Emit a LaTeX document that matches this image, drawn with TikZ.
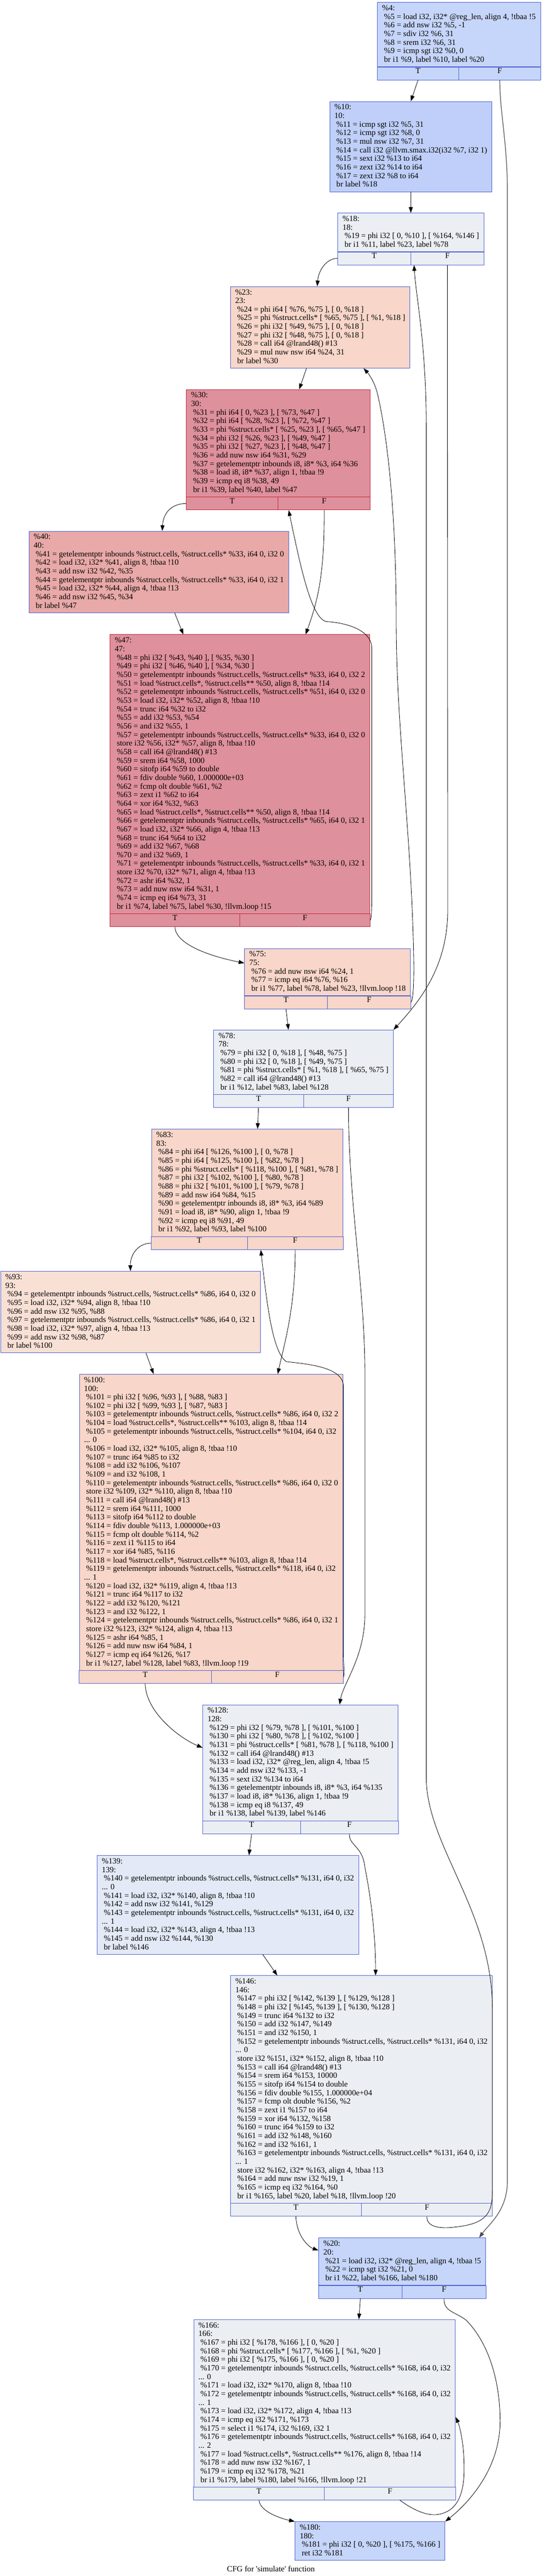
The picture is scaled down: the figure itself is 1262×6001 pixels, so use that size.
\documentclass[tikz,border=0pt]{standalone}
\usepackage{fontspec}
\setmainfont{Liberation Serif}
\usetikzlibrary{arrows.meta,calc,fit}

\definecolor{bordblue}{HTML}{4D61D0}
\definecolor{bordred}{HTML}{C0283C}

\newcommand\irtext[1]{\begin{tabular}{@{}l@{}}#1\end{tabular}}
\newcommand\tfrow[2]{%
  \node[cell,#2,fit={(#1.south west) ($(#1.south)+(0,30)$)}] (#1T) {T};
  \node[cell,#2,fit={(#1.south) ($(#1.south east)+(0,30)$)}] (#1F) {F};}

\tikzset{
  txt/.style={font=\fontsize{14}{15}\selectfont},
  blk/.style={txt, draw, line width=0.75pt, anchor=north, inner xsep=8.25pt, inner ysep=3.75pt},
  cell/.style={txt, draw, line width=0.75pt, inner sep=0pt},
  cblue/.style={fill={rgb,255:red,198;green,213;blue,250}, draw=bordblue},
  cblue2/.style={fill={rgb,255:red,191;green,207;blue,249}, draw=bordblue},
  cgrey/.style={fill={rgb,255:red,235;green,238;blue,243}, draw=bordblue},
  cgrey2/.style={fill={rgb,255:red,227;green,233;blue,246}, draw=bordblue},
  cpeach/.style={fill={rgb,255:red,248;green,214;blue,201}, draw=bordblue},
  cpeach2/.style={fill={rgb,255:red,249;green,224;blue,213}, draw=bordblue},
  cred/.style={fill={rgb,255:red,222;green,144;blue,156}, draw=bordred},
  crose/.style={fill={rgb,255:red,232;green,169;blue,168}, draw=bordblue},
  flow/.style={line width=0.75pt, -{Triangle[length=10pt,width=7pt]}},
  trunk/.style={flow, line width=1.1pt, draw=black!70},
}

\begin{document}
\begin{tikzpicture}[x=0.75pt, y=-0.75pt]

  \useasboundingbox (0,0) rectangle (1262,6001);

  % entry and outer loop
  \node[blk,cblue] (bb4) at (1069,5) {\irtext{\%4:\\
\ \%5 = load i32, i32* @reg\_len, align 4, !tbaa !5\\
\ \%6 = add nsw i32 \%5, -1\\
\ \%7 = sdiv i32 \%6, 31\\
\ \%8 = srem i32 \%6, 31\\
\ \%9 = icmp sgt i32 \%0, 0\\
\ br i1 \%9, label \%10, label \%20}};
  \tfrow{bb4}{cblue}

  \node[blk,cblue2] (bb10) at (957,236) {\irtext{\%10:\\
10:\\
\ \%11 = icmp sgt i32 \%5, 31\\
\ \%12 = icmp sgt i32 \%8, 0\\
\ \%13 = mul nsw i32 \%7, 31\\
\ \%14 = call i32 @llvm.smax.i32(i32 \%7, i32 1)\\
\ \%15 = sext i32 \%13 to i64\\
\ \%16 = zext i32 \%14 to i64\\
\ \%17 = zext i32 \%8 to i64\\
\ br label \%18}};

  \node[blk,cgrey] (bb18) at (957,496) {\irtext{\%18:\\
18:\\
\ \%19 = phi i32 [ 0, \%10 ], [ \%164, \%146 ]\\
\ br i1 \%11, label \%23, label \%78}};
  \tfrow{bb18}{cgrey}

  % first inner loop
  \node[blk,cpeach] (bb23) at (746,667) {\irtext{\%23:\\
23:\\
\ \%24 = phi i64 [ \%76, \%75 ], [ 0, \%18 ]\\
\ \%25 = phi \%struct.cells* [ \%65, \%75 ], [ \%1, \%18 ]\\
\ \%26 = phi i32 [ \%49, \%75 ], [ 0, \%18 ]\\
\ \%27 = phi i32 [ \%48, \%75 ], [ 0, \%18 ]\\
\ \%28 = call i64 @lrand48() \#13\\
\ \%29 = mul nuw nsw i64 \%24, 31\\
\ br label \%30}};

  \node[blk,cred] (bb30) at (648,907) {\irtext{\%30:\\
30:\\
\ \%31 = phi i64 [ 0, \%23 ], [ \%73, \%47 ]\\
\ \%32 = phi i64 [ \%28, \%23 ], [ \%72, \%47 ]\\
\ \%33 = phi \%struct.cells* [ \%25, \%23 ], [ \%65, \%47 ]\\
\ \%34 = phi i32 [ \%26, \%23 ], [ \%49, \%47 ]\\
\ \%35 = phi i32 [ \%27, \%23 ], [ \%48, \%47 ]\\
\ \%36 = add nuw nsw i64 \%31, \%29\\
\ \%37 = getelementptr inbounds i8, i8* \%3, i64 \%36\\
\ \%38 = load i8, i8* \%37, align 1, !tbaa !9\\
\ \%39 = icmp eq i8 \%38, 49\\
\ br i1 \%39, label \%40, label \%47}};
  \tfrow{bb30}{cred}

  \node[blk,crose] (bb40) at (370,1237) {\irtext{\%40:\\
40:\\
\ \%41 = getelementptr inbounds \%struct.cells, \%struct.cells* \%33, i64 0, i32 0\\
\ \%42 = load i32, i32* \%41, align 8, !tbaa !10\\
\ \%43 = add nsw i32 \%42, \%35\\
\ \%44 = getelementptr inbounds \%struct.cells, \%struct.cells* \%33, i64 0, i32 1\\
\ \%45 = load i32, i32* \%44, align 4, !tbaa !13\\
\ \%46 = add nsw i32 \%45, \%34\\
\ br label \%47}};

  \node[blk,cred] (bb47) at (559,1478) {\irtext{\%47:\\
47:\\
\ \%48 = phi i32 [ \%43, \%40 ], [ \%35, \%30 ]\\
\ \%49 = phi i32 [ \%46, \%40 ], [ \%34, \%30 ]\\
\ \%50 = getelementptr inbounds \%struct.cells, \%struct.cells* \%33, i64 0, i32 2\\
\ \%51 = load \%struct.cells*, \%struct.cells** \%50, align 8, !tbaa !14\\
\ \%52 = getelementptr inbounds \%struct.cells, \%struct.cells* \%51, i64 0, i32 0\\
\ \%53 = load i32, i32* \%52, align 8, !tbaa !10\\
\ \%54 = trunc i64 \%32 to i32\\
\ \%55 = add i32 \%53, \%54\\
\ \%56 = and i32 \%55, 1\\
\ \%57 = getelementptr inbounds \%struct.cells, \%struct.cells* \%33, i64 0, i32 0\\
\ store i32 \%56, i32* \%57, align 8, !tbaa !10\\
\ \%58 = call i64 @lrand48() \#13\\
\ \%59 = srem i64 \%58, 1000\\
\ \%60 = sitofp i64 \%59 to double\\
\ \%61 = fdiv double \%60, 1.000000e+03\\
\ \%62 = fcmp olt double \%61, \%2\\
\ \%63 = zext i1 \%62 to i64\\
\ \%64 = xor i64 \%32, \%63\\
\ \%65 = load \%struct.cells*, \%struct.cells** \%50, align 8, !tbaa !14\\
\ \%66 = getelementptr inbounds \%struct.cells, \%struct.cells* \%65, i64 0, i32 1\\
\ \%67 = load i32, i32* \%66, align 4, !tbaa !13\\
\ \%68 = trunc i64 \%64 to i32\\
\ \%69 = add i32 \%67, \%68\\
\ \%70 = and i32 \%69, 1\\
\ \%71 = getelementptr inbounds \%struct.cells, \%struct.cells* \%33, i64 0, i32 1\\
\ store i32 \%70, i32* \%71, align 4, !tbaa !13\\
\ \%72 = ashr i64 \%32, 1\\
\ \%73 = add nuw nsw i64 \%31, 1\\
\ \%74 = icmp eq i64 \%73, 31\\
\ br i1 \%74, label \%75, label \%30, !llvm.loop !15}};
  \tfrow{bb47}{cred}

  \node[blk,cpeach] (bb75) at (763,2209) {\irtext{\%75:\\
75:\\
\ \%76 = add nuw nsw i64 \%24, 1\\
\ \%77 = icmp eq i64 \%76, \%16\\
\ br i1 \%77, label \%78, label \%23, !llvm.loop !18}};
  \tfrow{bb75}{cpeach}

  \node[blk,cgrey] (bb78) at (707,2399) {\irtext{\%78:\\
78:\\
\ \%79 = phi i32 [ 0, \%18 ], [ \%48, \%75 ]\\
\ \%80 = phi i32 [ 0, \%18 ], [ \%49, \%75 ]\\
\ \%81 = phi \%struct.cells* [ \%1, \%18 ], [ \%65, \%75 ]\\
\ \%82 = call i64 @lrand48() \#13\\
\ br i1 \%12, label \%83, label \%128}};
  \tfrow{bb78}{cgrey}

  % second inner loop
  \node[blk,cpeach] (bb83) at (576,2630) {\irtext{\%83:\\
83:\\
\ \%84 = phi i64 [ \%126, \%100 ], [ 0, \%78 ]\\
\ \%85 = phi i64 [ \%125, \%100 ], [ \%82, \%78 ]\\
\ \%86 = phi \%struct.cells* [ \%118, \%100 ], [ \%81, \%78 ]\\
\ \%87 = phi i32 [ \%102, \%100 ], [ \%80, \%78 ]\\
\ \%88 = phi i32 [ \%101, \%100 ], [ \%79, \%78 ]\\
\ \%89 = add nsw i64 \%84, \%15\\
\ \%90 = getelementptr inbounds i8, i8* \%3, i64 \%89\\
\ \%91 = load i8, i8* \%90, align 1, !tbaa !9\\
\ \%92 = icmp eq i8 \%91, 49\\
\ br i1 \%92, label \%93, label \%100}};
  \tfrow{bb83}{cpeach}

  \node[blk,cpeach2] (bb93) at (304,2961) {\irtext{\%93:\\
93:\\
\ \%94 = getelementptr inbounds \%struct.cells, \%struct.cells* \%86, i64 0, i32 0\\
\ \%95 = load i32, i32* \%94, align 8, !tbaa !10\\
\ \%96 = add nsw i32 \%95, \%88\\
\ \%97 = getelementptr inbounds \%struct.cells, \%struct.cells* \%86, i64 0, i32 1\\
\ \%98 = load i32, i32* \%97, align 4, !tbaa !13\\
\ \%99 = add nsw i32 \%98, \%87\\
\ br label \%100}};

  \node[blk,cpeach] (bb100) at (492,3201) {\irtext{\%100:\\
100:\\
\ \%101 = phi i32 [ \%96, \%93 ], [ \%88, \%83 ]\\
\ \%102 = phi i32 [ \%99, \%93 ], [ \%87, \%83 ]\\
\ \%103 = getelementptr inbounds \%struct.cells, \%struct.cells* \%86, i64 0, i32 2\\
\ \%104 = load \%struct.cells*, \%struct.cells** \%103, align 8, !tbaa !14\\
\ \%105 = getelementptr inbounds \%struct.cells, \%struct.cells* \%104, i64 0, i32\\
... 0\\
\ \%106 = load i32, i32* \%105, align 8, !tbaa !10\\
\ \%107 = trunc i64 \%85 to i32\\
\ \%108 = add i32 \%106, \%107\\
\ \%109 = and i32 \%108, 1\\
\ \%110 = getelementptr inbounds \%struct.cells, \%struct.cells* \%86, i64 0, i32 0\\
\ store i32 \%109, i32* \%110, align 8, !tbaa !10\\
\ \%111 = call i64 @lrand48() \#13\\
\ \%112 = srem i64 \%111, 1000\\
\ \%113 = sitofp i64 \%112 to double\\
\ \%114 = fdiv double \%113, 1.000000e+03\\
\ \%115 = fcmp olt double \%114, \%2\\
\ \%116 = zext i1 \%115 to i64\\
\ \%117 = xor i64 \%85, \%116\\
\ \%118 = load \%struct.cells*, \%struct.cells** \%103, align 8, !tbaa !14\\
\ \%119 = getelementptr inbounds \%struct.cells, \%struct.cells* \%118, i64 0, i32\\
... 1\\
\ \%120 = load i32, i32* \%119, align 4, !tbaa !13\\
\ \%121 = trunc i64 \%117 to i32\\
\ \%122 = add i32 \%120, \%121\\
\ \%123 = and i32 \%122, 1\\
\ \%124 = getelementptr inbounds \%struct.cells, \%struct.cells* \%86, i64 0, i32 1\\
\ store i32 \%123, i32* \%124, align 4, !tbaa !13\\
\ \%125 = ashr i64 \%85, 1\\
\ \%126 = add nuw nsw i64 \%84, 1\\
\ \%127 = icmp eq i64 \%126, \%17\\
\ br i1 \%127, label \%128, label \%83, !llvm.loop !19}};
  \tfrow{bb100}{cpeach}

  % last cell
  \node[blk,cgrey] (bb128) at (700,3971) {\irtext{\%128:\\
128:\\
\ \%129 = phi i32 [ \%79, \%78 ], [ \%101, \%100 ]\\
\ \%130 = phi i32 [ \%80, \%78 ], [ \%102, \%100 ]\\
\ \%131 = phi \%struct.cells* [ \%81, \%78 ], [ \%118, \%100 ]\\
\ \%132 = call i64 @lrand48() \#13\\
\ \%133 = load i32, i32* @reg\_len, align 4, !tbaa !5\\
\ \%134 = add nsw i32 \%133, -1\\
\ \%135 = sext i32 \%134 to i64\\
\ \%136 = getelementptr inbounds i8, i8* \%3, i64 \%135\\
\ \%137 = load i8, i8* \%136, align 1, !tbaa !9\\
\ \%138 = icmp eq i8 \%137, 49\\
\ br i1 \%138, label \%139, label \%146}};
  \tfrow{bb128}{cgrey}

  \node[blk,cgrey2] (bb139) at (531,4322) {\irtext{\%139:\\
139:\\
\ \%140 = getelementptr inbounds \%struct.cells, \%struct.cells* \%131, i64 0, i32\\
... 0\\
\ \%141 = load i32, i32* \%140, align 8, !tbaa !10\\
\ \%142 = add nsw i32 \%141, \%129\\
\ \%143 = getelementptr inbounds \%struct.cells, \%struct.cells* \%131, i64 0, i32\\
... 1\\
\ \%144 = load i32, i32* \%143, align 4, !tbaa !13\\
\ \%145 = add nsw i32 \%144, \%130\\
\ br label \%146}};

  \node[blk,cgrey] (bb146) at (842,4602) {\irtext{\%146:\\
146:\\
\ \%147 = phi i32 [ \%142, \%139 ], [ \%129, \%128 ]\\
\ \%148 = phi i32 [ \%145, \%139 ], [ \%130, \%128 ]\\
\ \%149 = trunc i64 \%132 to i32\\
\ \%150 = add i32 \%147, \%149\\
\ \%151 = and i32 \%150, 1\\
\ \%152 = getelementptr inbounds \%struct.cells, \%struct.cells* \%131, i64 0, i32\\
... 0\\
\ store i32 \%151, i32* \%152, align 8, !tbaa !10\\
\ \%153 = call i64 @lrand48() \#13\\
\ \%154 = srem i64 \%153, 10000\\
\ \%155 = sitofp i64 \%154 to double\\
\ \%156 = fdiv double \%155, 1.000000e+04\\
\ \%157 = fcmp olt double \%156, \%2\\
\ \%158 = zext i1 \%157 to i64\\
\ \%159 = xor i64 \%132, \%158\\
\ \%160 = trunc i64 \%159 to i32\\
\ \%161 = add i32 \%148, \%160\\
\ \%162 = and i32 \%161, 1\\
\ \%163 = getelementptr inbounds \%struct.cells, \%struct.cells* \%131, i64 0, i32\\
... 1\\
\ store i32 \%162, i32* \%163, align 4, !tbaa !13\\
\ \%164 = add nuw nsw i32 \%19, 1\\
\ \%165 = icmp eq i32 \%164, \%0\\
\ br i1 \%165, label \%20, label \%18, !llvm.loop !20}};
  \tfrow{bb146}{cgrey}

  % counting loop and exit
  \node[blk,cblue] (bb20) at (937,5213) {\irtext{\%20:\\
20:\\
\ \%21 = load i32, i32* @reg\_len, align 4, !tbaa !5\\
\ \%22 = icmp sgt i32 \%21, 0\\
\ br i1 \%22, label \%166, label \%180}};
  \tfrow{bb20}{cblue}

  \node[blk,cgrey] (bb166) at (756,5403) {\irtext{\%166:\\
166:\\
\ \%167 = phi i32 [ \%178, \%166 ], [ 0, \%20 ]\\
\ \%168 = phi \%struct.cells* [ \%177, \%166 ], [ \%1, \%20 ]\\
\ \%169 = phi i32 [ \%175, \%166 ], [ 0, \%20 ]\\
\ \%170 = getelementptr inbounds \%struct.cells, \%struct.cells* \%168, i64 0, i32\\
... 0\\
\ \%171 = load i32, i32* \%170, align 8, !tbaa !10\\
\ \%172 = getelementptr inbounds \%struct.cells, \%struct.cells* \%168, i64 0, i32\\
... 1\\
\ \%173 = load i32, i32* \%172, align 4, !tbaa !13\\
\ \%174 = icmp eq i32 \%171, \%173\\
\ \%175 = select i1 \%174, i32 \%169, i32 1\\
\ \%176 = getelementptr inbounds \%struct.cells, \%struct.cells* \%168, i64 0, i32\\
... 2\\
\ \%177 = load \%struct.cells*, \%struct.cells** \%176, align 8, !tbaa !14\\
\ \%178 = add nuw nsw i32 \%167, 1\\
\ \%179 = icmp eq i32 \%178, \%21\\
\ br i1 \%179, label \%180, label \%166, !llvm.loop !21}};
  \tfrow{bb166}{cgrey}

  \node[blk,cblue] (bb180) at (862,5874) {\irtext{\%180:\\
180:\\
\ \%181 = phi i32 [ 0, \%20 ], [ \%175, \%166 ]\\
\ ret i32 \%181}};

  \node[txt] (title) at (631,5984) {CFG for \textquotesingle simulate\textquotesingle{} function};

  % edges
  \draw[flow] (bb4T.south) -- (bb10.north);
  \draw[trunk] (bb4F.south) .. controls (1164,260) and (1182,330) .. (1182,450) -- (1182,5080)
    .. controls (1182,5150) and (1140,5180) .. ($(bb20.north east)+(-16,0)$);
  \draw[flow] (bb10.south) -- (bb18.north);
  \draw[flow] (bb18T.west) .. controls (760,602) and (742,630) .. ($(bb23.north)+(-7,0)$);
  \draw[flow] (bb18F.south) -- (1043,2120) .. controls (1043,2250) and (980,2330) .. (bb78.north east);
  \draw[flow] ($(bb23.south)+(-32,0)$) -- ($(bb30.north)+(49,0)$);
  \draw[flow] (bb30T.west) .. controls (400,1173) and (380,1195) .. ($(bb40.north)+(8,0)$);
  \draw[flow] (bb30F.south) .. controls (756,1340) and (740,1400) .. ($(bb47.north)+(153,0)$);
  \draw[flow] ($(bb40.south)+(37,0)$) -- ($(bb47.north)+(-132,0)$);
  \draw[flow] (bb47F.east) .. controls (866,2140) and (866,2110) .. (866,2060) -- (866,1510)
    .. controls (866,1465) and (800,1450) .. (760,1448) .. controls (725,1440) and (700,1320) .. ($(bb30F.south west)+(25,0)$);
  \draw[flow] (bb47T.south) .. controls (409,2200) and (490,2228) .. ($(bb75.west)+(0,-21)$);
  \draw[flow] (bb75T.south) -- ($(bb78.north)+(-35,0)$);
  \draw[flow] (bb75F.east) .. controls (962,2330) and (964,2300) .. (964,2250)
    .. controls (960,1950) and (923,1700) .. (923,1450) .. controls (923,1150) and (895,980) .. (878,912)
    .. controls (870,885) and (858,870) .. ($(bb23.south)+(101,0)$);
  \draw[flow] (bb78T.south) -- ($(bb83.north)+(24,0)$);
  \draw[flow] (bb78F.south) .. controls (812,2800) and (850,3000) .. (850,3200) -- (850,3760)
    .. controls (850,3860) and (800,3920) .. ($(bb128.north)+(91,0)$);
  \draw[flow] (bb83T.west) .. controls (320,2896) and (303,2925) .. (bb93.north);
  \draw[flow] (bb83F.south) .. controls (688,3050) and (660,3140) .. ($(bb100.north)+(155,0)$);
  \draw[flow] ($(bb93.south)+(36,0)$) -- ($(bb100.north)+(-134,0)$);
  \draw[flow] (bb100F.east) .. controls (803,3900) and (800,3880) .. (800,3850) -- (800,3230)
    .. controls (800,3185) and (720,3178) .. (667,3172) .. controls (635,3150) and (622,3040) .. ($(bb83F.south west)+(32,0)$);
  \draw[flow] (bb100T.south) .. controls (340,3990) and (420,4050) .. ($(bb128.west)+(0,-35)$);
  \draw[flow] (bb128T.south) -- ($(bb139.north)+(49,0)$);
  \draw[flow] (bb128F.south) .. controls (813,4300) and (845,4300) .. (850,4350)
    .. controls (870,4450) and (875,4540) .. ($(bb146.north)+(33,0)$);
  \draw[flow] ($(bb139.south)+(81,0)$) -- ($(bb146.north)+(-196,0)$);
  \draw[flow] (bb146T.south) .. controls (691,5210) and (720,5235) .. ($(bb20.west)+(0,-26)$);
  \draw[flow] (bb146F.south) .. controls (993,5190) and (1030,5192) .. (1060,5188)
    .. controls (1140,5180) and (1147,5150) .. (1147,5100) -- (1147,4680)
    .. controls (1147,4450) and (993,4300) .. (993,4140) -- (993,1000)
    .. controls (993,800) and (970,700) .. ($(bb18F.south west)+(8,0)$);
  \draw[flow] (bb20T.south) -- ($(bb166.north)+(80,0)$);
  \draw[flow] (bb20F.south) .. controls (1033,5385) and (1060,5385) .. (1086,5405)
    .. controls (1140,5460) and (1165,5550) .. (1165,5640) .. controls (1165,5760) and (1080,5840) .. (bb180.north east);
  \draw[flow] (bb166T.south) .. controls (606,5850) and (650,5866) .. (bb180.north west);
  \draw[flow] ($(bb166F.south)+(23,0)$) .. controls (960,5845) and (990,5860) .. (1016,5858)
    .. controls (1080,5852) and (1082,5780) .. (1081,5740) .. controls (1080,5680) and (1068,5645) .. ($(bb166.east)+(0,32)$);

\end{tikzpicture}
\end{document}
